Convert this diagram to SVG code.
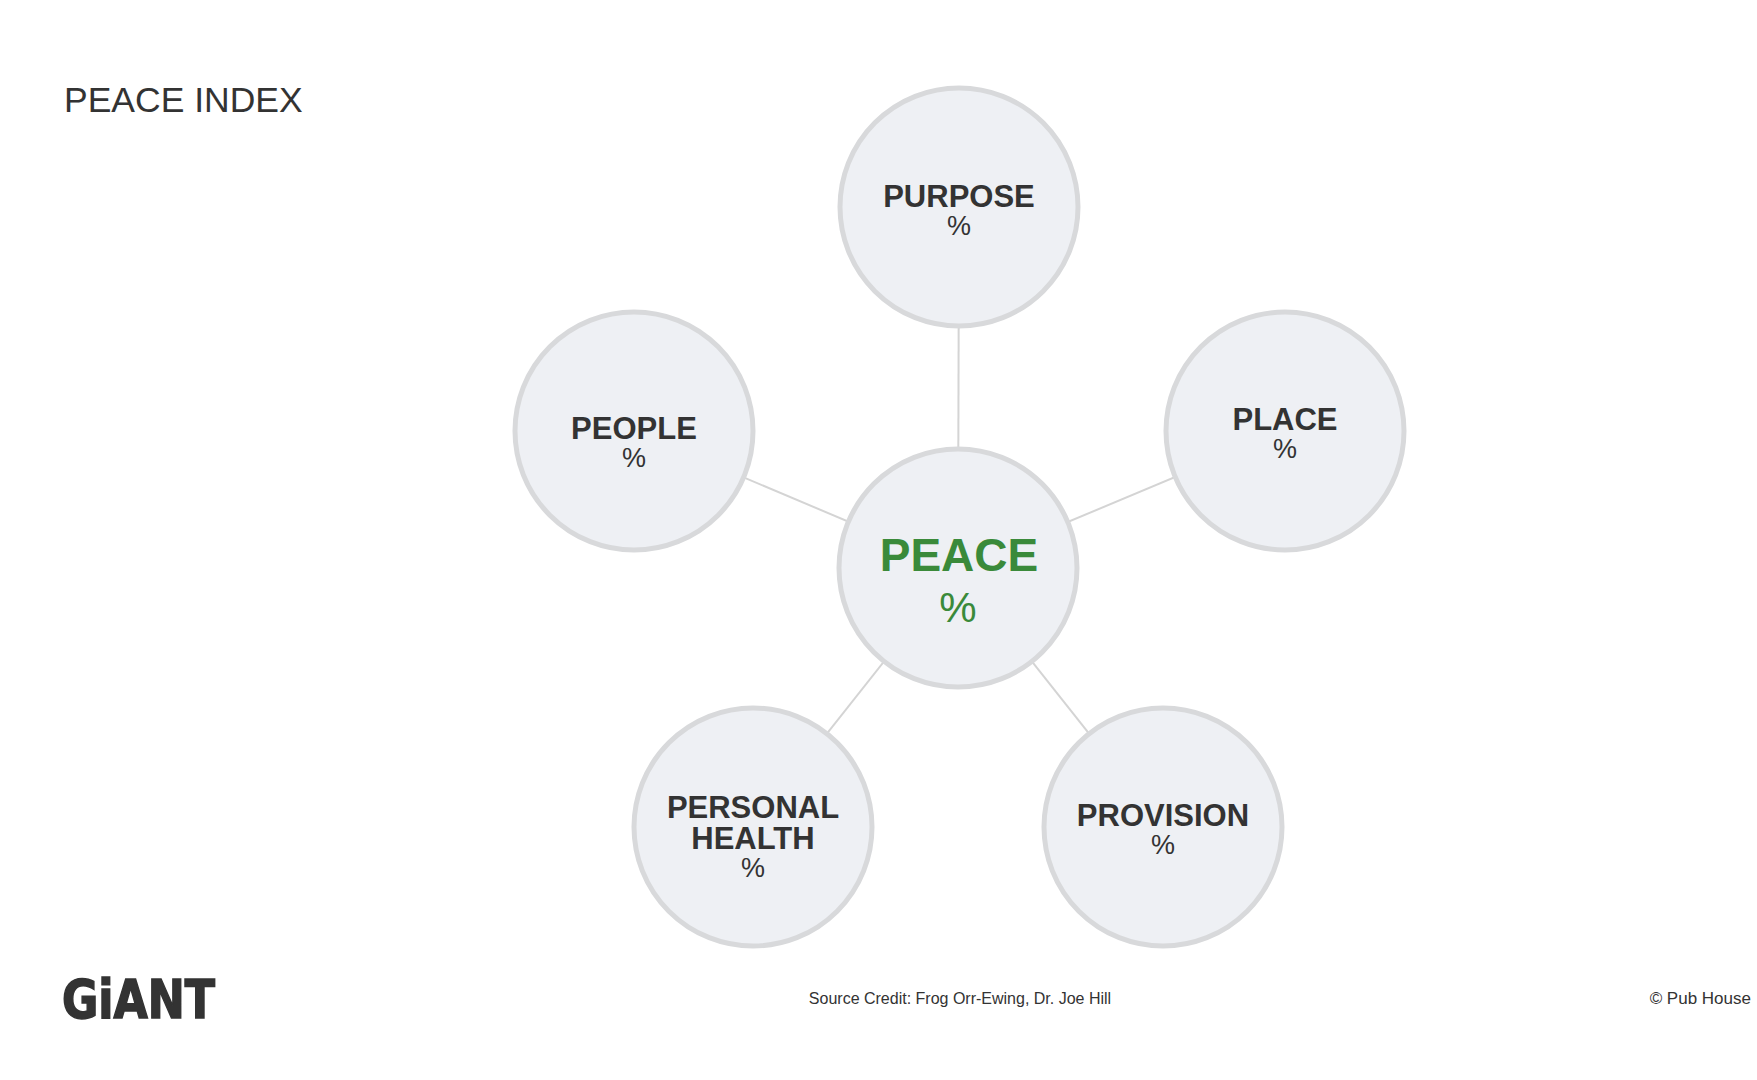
<svg xmlns="http://www.w3.org/2000/svg" width="1757" height="1080" viewBox="0 0 1757 1080">
<style>
.c{fill:#eef0f4;stroke:#d8d9db;stroke-width:5}
.l{stroke:#d4d4d4;stroke-width:2}
.t{font-family:"Liberation Sans",Arial,sans-serif;fill:#333;text-anchor:middle}
.b{font-weight:bold;font-size:31px}
.p{font-size:27px}
</style>
<rect width="1757" height="1080" fill="#fff"/>
<text x="64" y="112" font-family="Liberation Sans,Arial,sans-serif" font-size="35.5" fill="#333">PEACE INDEX</text>
<g id="connectors">
<line class="l" x1="959" y1="207" x2="958" y2="568"/>
<line class="l" x1="634" y1="431" x2="958" y2="568"/>
<line class="l" x1="1285" y1="431" x2="958" y2="568"/>
<line class="l" x1="753" y1="827" x2="958" y2="568"/>
<line class="l" x1="1163" y1="827" x2="958" y2="568"/>
</g>
<g id="purpose"><circle class="c" cx="959" cy="207" r="119"/><text class="t b" x="959" y="207">PURPOSE</text><text class="t p" x="959" y="235">%</text></g>
<g id="people"><circle class="c" cx="634" cy="431" r="119"/><text class="t b" x="634" y="439">PEOPLE</text><text class="t p" x="634" y="467">%</text></g>
<g id="place"><circle class="c" cx="1285" cy="431" r="119"/><text class="t b" x="1285" y="430">PLACE</text><text class="t p" x="1285" y="458">%</text></g>
<g id="personal-health"><circle class="c" cx="753" cy="827" r="119"/><text class="t b" x="753" y="818">PERSONAL</text><text class="t b" x="753" y="849">HEALTH</text><text class="t p" x="753" y="877">%</text></g>
<g id="provision"><circle class="c" cx="1163" cy="827" r="119"/><text class="t b" x="1163" y="826">PROVISION</text><text class="t p" x="1163" y="854">%</text></g>
<g id="peace"><circle class="c" cx="958" cy="568" r="119"/><text class="t" x="959" y="571" font-size="46" font-weight="bold" style="fill:#3a8a3a">PEACE</text><text class="t" x="958" y="622" font-size="42" style="fill:#3a8a3a">%</text></g>
<text x="62" y="1018" font-family="DejaVu Sans Condensed,DejaVu Sans,sans-serif" font-weight="bold" font-size="54" fill="#333" stroke="#333" stroke-width="1.5" textLength="153" lengthAdjust="spacingAndGlyphs">GiANT</text>
<text class="t" x="960" y="1004" font-size="16">Source Credit: Frog Orr-Ewing, Dr. Joe Hill</text>
<text x="1751" y="1004" font-family="Liberation Sans,Arial,sans-serif" font-size="17" fill="#333" text-anchor="end">© Pub House</text>
</svg>
